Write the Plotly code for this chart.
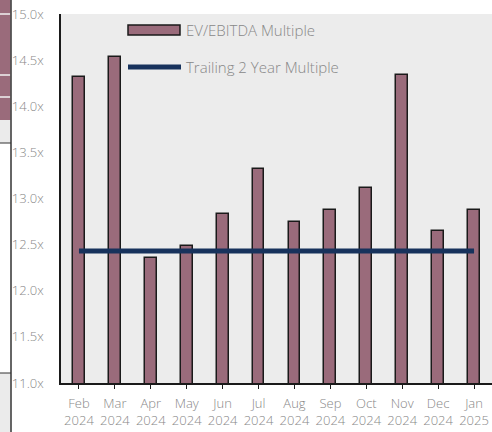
import plotly.graph_objects as go

months = ["Feb<br>2024", "Mar<br>2024", "Apr<br>2024", "May<br>2024", "Jun<br>2024", "Jul<br>2024",
          "Aug<br>2024", "Sep<br>2024", "Oct<br>2024", "Nov<br>2024", "Dec<br>2024", "Jan<br>2025"]
ev_ebitda = [14.32, 14.53, 12.35, 12.49, 12.83, 13.32, 12.74, 12.88, 13.11, 14.34, 12.65, 12.88]
trailing_2y = [12.43] * 12
y_ticks = [11.0, 11.5, 12.0, 12.5, 13.0, 13.5, 14.0, 14.5, 15.0]
series_names = ["EV/EBITDA Multiple", "Trailing 2 Year Multiple"]

BAR = "#9a6b7b"
NAVY = "#17325c"
GREY = "#888888"
FONT = "Open Sans"

W, H = 492, 432
L, R, T, B = 61, 0, 14, 49
pw, ph = W - L - R, H - T - B

def px(x):
    return (x - L) / pw

def py(y):
    return (H - B - y) / ph

fig = go.Figure()
fig.add_trace(go.Bar(x=months, y=ev_ebitda, name=series_names[0], width=0.33,
                     marker=dict(color=BAR, line=dict(color="#1a1a1a", width=1.5)),
                     showlegend=False, hoverinfo="skip"))
fig.add_trace(go.Scatter(x=months, y=trailing_2y, name=series_names[1], mode="lines",
                         line=dict(color=NAVY, width=5), showlegend=False, hoverinfo="skip"))

shapes = []
# manual legend
shapes.append(dict(type="rect", xref="paper", yref="paper", x0=px(128), x1=px(180), y0=py(35), y1=py(25),
                   fillcolor=BAR, line=dict(color="#1a1a1a", width=1.5)))
shapes.append(dict(type="line", xref="paper", yref="paper", x0=px(128), x1=px(181), y0=py(67), y1=py(67),
                   line=dict(color=NAVY, width=5)))
# left-edge decoration (neighbouring panel)
shapes.append(dict(type="rect", xref="paper", yref="paper", x0=px(-2), x1=px(10.5), y0=py(120), y1=py(-2),
                   fillcolor=BAR, line=dict(width=0)))
for yy in [14, 75, 97]:
    shapes.append(dict(type="line", xref="paper", yref="paper", x0=px(-2), x1=px(10.5), y0=py(yy), y1=py(yy),
                       line=dict(color="#f2f2f2", width=1.5)))
shapes.append(dict(type="rect", xref="paper", yref="paper", x0=px(-2), x1=px(10.5), y0=py(143), y1=py(120),
                   fillcolor="#ebebeb", line=dict(width=0)))
shapes.append(dict(type="line", xref="paper", yref="paper", x0=px(-2), x1=px(11), y0=py(143), y1=py(143),
                   line=dict(color="#333333", width=1)))
shapes.append(dict(type="rect", xref="paper", yref="paper", x0=px(-2), x1=px(10.5), y0=py(434), y1=py(373),
                   fillcolor="#ebebeb", line=dict(width=0)))
shapes.append(dict(type="line", xref="paper", yref="paper", x0=px(-2), x1=px(11), y0=py(373), y1=py(373),
                   line=dict(color="#333333", width=1)))
shapes.append(dict(type="line", xref="paper", yref="paper", x0=px(11), x1=px(11), y0=py(-2), y1=py(434),
                   line=dict(color="#333333", width=1.5)))

annotations = [
    dict(xref="paper", yref="paper", x=px(184), y=py(30), text=series_names[0], showarrow=False,
         xanchor="left", yanchor="middle", font=dict(family=FONT, size=15, color=GREY, weight=300)),
    dict(xref="paper", yref="paper", x=px(184), y=py(67), text=series_names[1], showarrow=False,
         xanchor="left", yanchor="middle", font=dict(family=FONT, size=15, color=GREY, weight=300)),
]

fig.update_layout(
    width=W, height=H,
    margin=dict(l=L, r=R, t=T, b=B, pad=0, autoexpand=False),
    paper_bgcolor="white", plot_bgcolor="#ececec",
    font=dict(family=FONT, size=13, color=GREY, weight=300),
    shapes=shapes, annotations=annotations,
    bargap=0,
)
fig.update_xaxes(showgrid=False, showline=True, linecolor="#1a1a1a", linewidth=1.5,
                 ticks="outside", ticklen=4, tickcolor="#1a1a1a", tickwidth=1,
                 ticklabelstandoff=4, automargin=False,
                 tickfont=dict(family=FONT, size=13, color=GREY, weight=300), range=[-0.5, 11.5])
fig.update_yaxes(range=[11.0, 15.0], tickvals=y_ticks, ticktext=[f"{v:.1f}x" for v in y_ticks],
                 showgrid=False, zeroline=False, showline=True, linecolor="#1a1a1a", linewidth=1.5,
                 ticks="", ticklabelstandoff=13, automargin=False,
                 tickfont=dict(family=FONT, size=13, color=GREY, weight=300))

fig.write_html("out.html", config={"displayModeBar": False},
               post_script="document.body.style.margin='0px';")
